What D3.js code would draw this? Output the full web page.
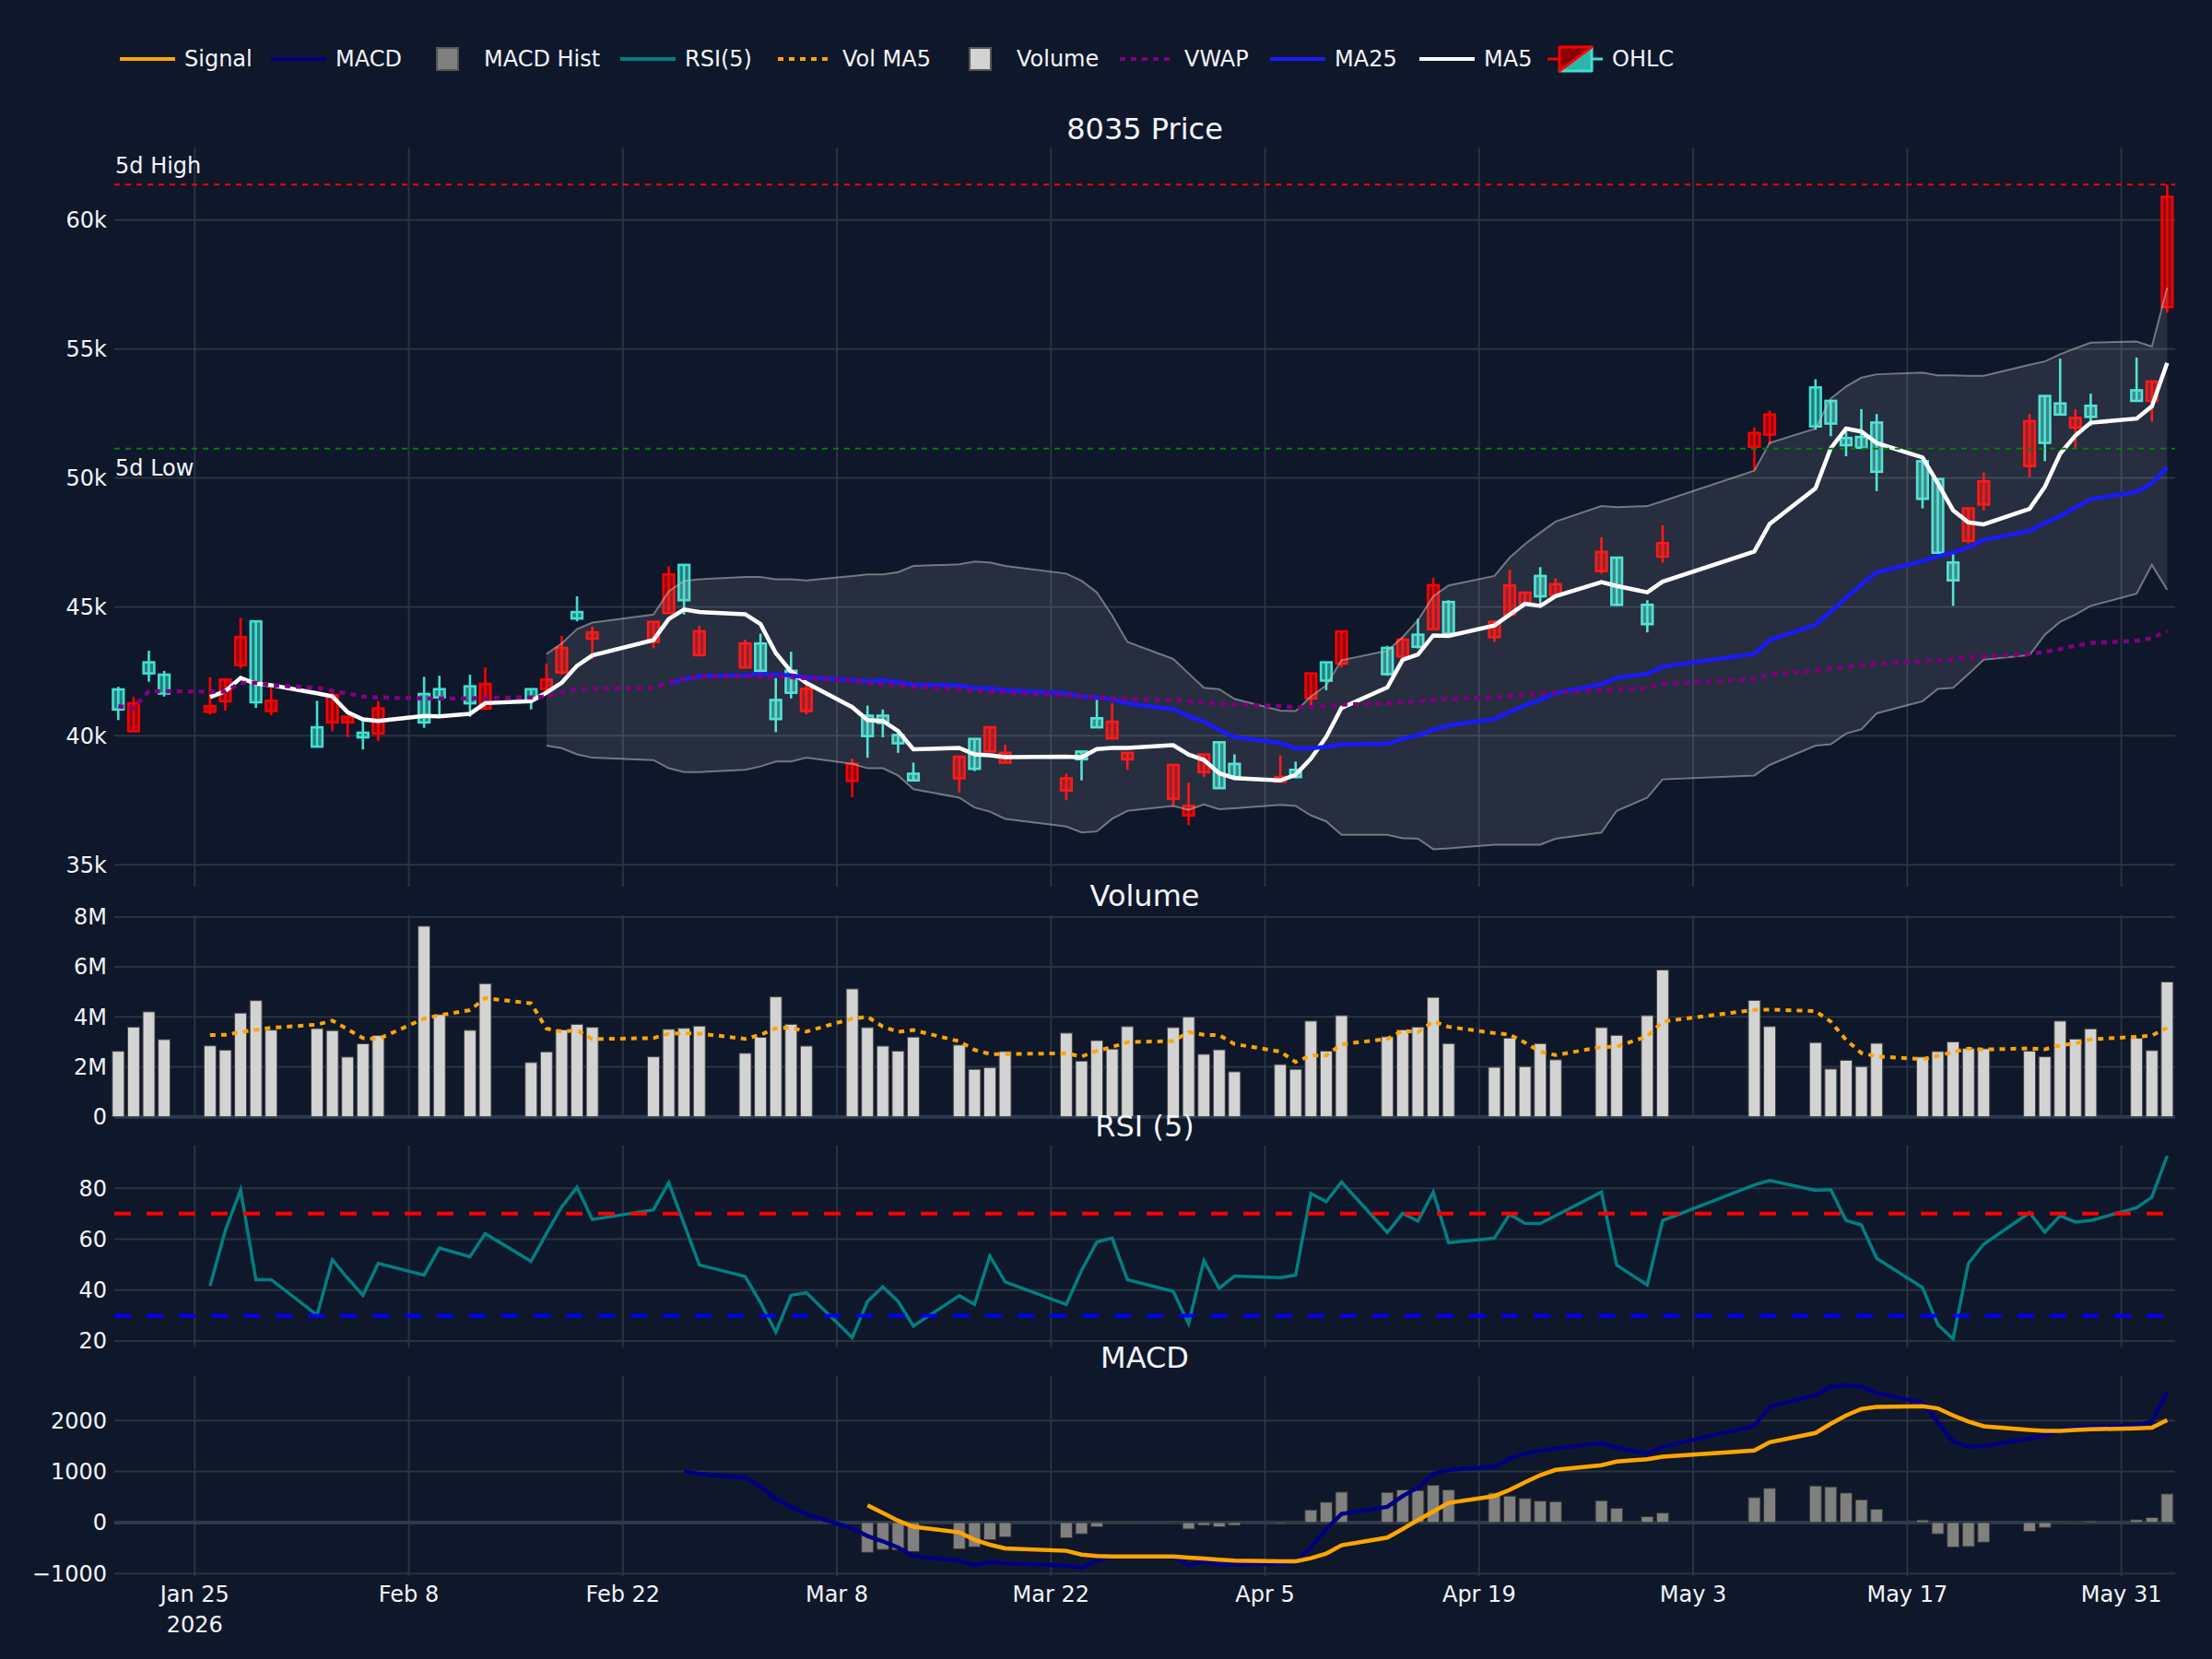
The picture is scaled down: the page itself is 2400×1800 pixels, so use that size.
<!DOCTYPE html>
<html lang="en">
<head>
<meta charset="UTF-8" />
<title>8035 Price</title>
<script src="https://d3js.org/d3.v7.min.js"></script>
<style>
  body { margin: 0; background: #0f172a; }
  svg { display: block; }
  text { font-family: "DejaVu Sans", Verdana, sans-serif; fill: #f2f5fa; }
</style>
</head>
<body>
<svg id="chart" width="2400" height="1800"></svg>
<script>
// ---- data ----
const dates = ["2026-01-20","2026-01-21","2026-01-22","2026-01-23","2026-01-26","2026-01-27","2026-01-28","2026-01-29","2026-01-30",
  "2026-02-02","2026-02-03","2026-02-04","2026-02-05","2026-02-06","2026-02-09","2026-02-10","2026-02-12","2026-02-13","2026-02-16","2026-02-17","2026-02-18","2026-02-19","2026-02-20","2026-02-24","2026-02-25","2026-02-26","2026-02-27",
  "2026-03-02","2026-03-03","2026-03-04","2026-03-05","2026-03-06","2026-03-09","2026-03-10","2026-03-11","2026-03-12","2026-03-13","2026-03-16","2026-03-17","2026-03-18","2026-03-19","2026-03-23","2026-03-24","2026-03-25","2026-03-26","2026-03-27","2026-03-30","2026-03-31",
  "2026-04-01","2026-04-02","2026-04-03","2026-04-06","2026-04-07","2026-04-08","2026-04-09","2026-04-10","2026-04-13","2026-04-14","2026-04-15","2026-04-16","2026-04-17","2026-04-20","2026-04-21","2026-04-22","2026-04-23","2026-04-24","2026-04-27","2026-04-28","2026-04-30",
  "2026-05-01","2026-05-07","2026-05-08","2026-05-11","2026-05-12","2026-05-13","2026-05-14","2026-05-15","2026-05-18","2026-05-19","2026-05-20","2026-05-21","2026-05-22","2026-05-25","2026-05-26","2026-05-27","2026-05-28","2026-05-29",
  "2026-06-01","2026-06-02","2026-06-03"];

const open = [41800,40180,42850,42370,40930,41340,42740,44440,40960,
  40330,40520,40520,40120,40090,41620,41810,41920,41060,41810,41810,42460,44800,43770,43640,44760,46630,43130,
  42650,43580,41390,42520,40960,38250,40780,40780,40030,38530,38350,39880,39390,38960,37880,39390,40680,39900,39090,37560,36910,
  38590,39750,38910,38220,38680,41450,42850,42800,43410,43080,43920,44140,45190,43830,44700,45130,46200,45450,46390,46910,45080,
  46950,51210,51680,53510,52990,51550,51590,52150,50650,49960,46720,47560,48970,50460,53180,52890,51960,52800,
  53400,52990,56630];
const high = [41900,41520,43300,42520,42270,42240,44570,44480,41860,
  41360,41670,40740,40650,41340,42290,42330,42370,42650,41810,42800,43880,45410,44240,44420,46570,46630,44260,
  43730,43960,42240,43260,41960,39110,41170,41020,40180,38960,39190,39880,40330,39650,38530,39390,41390,41260,39340,38870,38180,
  39280,39750,39280,39240,39000,42420,42850,44050,43490,43830,44540,46130,45260,44480,46440,45550,46540,46110,47700,46910,45260,
  48160,51960,52610,53830,52990,51830,52670,52480,50650,49960,47150,48820,50220,52480,53180,54630,52670,53270,
  54670,53740,61370];
const low = [40610,40170,42100,41520,40830,40980,42610,41080,40800,
  39580,40180,39940,39470,39800,40310,40830,40740,41020,41020,41670,42370,44440,42980,43390,44760,44700,43080,
  42640,42420,40140,41450,40830,37620,39150,39940,39340,38270,37800,38630,39390,38960,37500,38270,40330,39900,38680,37280,36530,
  38400,37970,38400,38220,38350,41110,41770,42650,42330,43080,43390,44110,43960,43640,44700,45080,45080,45450,46290,45040,44010,
  46720,50310,51300,51870,51620,50840,51170,49490,48820,47100,45040,47470,48740,50030,50650,52460,51170,52020,
  52950,52180,56410];
const close = [41020,41260,42420,41640,41150,42180,43830,41300,41360,
  39580,41580,40740,39940,41060,40520,41490,41260,42010,41430,42180,43410,44550,44010,44420,46260,45260,44050,
  43580,42520,40650,41670,41820,38910,39990,40500,39710,38270,39190,38720,40330,39340,38350,39090,40330,40550,39340,38870,37280,
  39280,37970,38400,38400,38400,42420,42140,44050,42390,43730,43450,45840,43960,44420,45830,45550,45410,45880,47130,45080,44330,
  47470,51740,52460,52000,52110,51270,51170,50240,49190,47100,46030,48820,49870,52200,51360,52460,52330,52370,
  52990,53740,60900];
const volume = [2.62e6,3.59e6,4.20e6,3.09e6,2.84e6,2.67e6,4.15e6,4.65e6,3.47e6,
  3.53e6,3.45e6,2.39e6,2.92e6,3.25e6,7.63e6,4.09e6,3.46e6,5.33e6,2.17e6,2.60e6,3.48e6,3.70e6,3.58e6,2.40e6,3.50e6,3.54e6,3.63e6,
  2.54e6,3.18e6,4.80e6,3.70e6,2.83e6,5.12e6,3.57e6,2.83e6,2.63e6,3.19e6,2.87e6,1.90e6,1.97e6,2.61e6,3.35e6,2.23e6,3.05e6,2.71e6,3.61e6,3.57e6,4.00e6,
  2.50e6,2.68e6,1.80e6,2.09e6,1.90e6,3.83e6,2.63e6,4.05e6,3.20e6,3.48e6,3.59e6,4.78e6,2.93e6,1.98e6,3.15e6,2.01e6,2.93e6,2.28e6,3.57e6,3.26e6,4.05e6,
  5.88e6,4.66e6,3.61e6,2.97e6,1.91e6,2.26e6,2.01e6,2.94e6,2.39e6,2.61e6,3.00e6,2.73e6,2.72e6,2.63e6,2.40e6,3.83e6,3.11e6,3.52e6,
  3.14e6,2.65e6,5.40e6];

// indicator series; each starts at the given index into dates
const ma5Start = 4;
const ma5 = [41498,41730,42244,42020,41964,
  41650,41530,40912,40640,40580,40768,40750,40854,41268,41342,41674,42058,42716,43116,43714,44530,44900,44800,
  44714,44334,43212,42494,42048,41114,40608,40578,40186,39476,39532,39278,39244,39170,39186,39166,39488,39532,39532,39636,39274,
  39064,38548,38360,38266,38490,39118,39952,41082,41880,42946,43152,43892,43874,44280,44700,45120,45034,45418,45960,45810,45566,
  45978,47150,48216,49600,51156,51916,51802,51358,50796,49794,48746,48276,48202,48804,49656,50942,51644,52144,
  52302,52778,54466];
const ma25Start = 24;
const ma25 = [42024,42194,42305,
  42352,42387,42367,42346,42266,42170,42116,42152,42078,41979,41949,41855,41848,41762,41645,41528,41484,41419,41256,41029,40760,
  40554,40223,39948,39722,39515,39511,39571,39666,39689,39882,40020,40234,40404,40650,40915,41188,41392,41653,42004,42244,42404,
  42681,43177,43720,44309,44822,45354,45865,46339,46770,46958,47113,47304,47603,47942,48258,48523,48858,49176,
  49462,49790,50410];
const bbStart = 19;
const bbUpper = [43170,43580,44140,44390,44700,45600,46010,46070,
  46160,46160,46070,46070,46030,46200,46260,46260,46350,46590,46650,46760,46720,46590,46290,46010,45560,44670,43640,42980,42420,
  41860,41810,41430,40980,40960,41520,41960,42930,43300,43830,44480,45410,45830,46200,46910,47440,47880,48310,48910,48870,48910,
  49100,50280,51360,51920,53080,53550,53890,54020,54090,53980,53980,53960,53960,54390,54520,54800,55030,55250,
  55290,55100,57380];
const bbLower = [39620,39520,39280,39150,39060,38740,38590,38590,
  38680,38810,39000,39000,39150,38910,38740,38740,38460,37930,37600,37220,37060,36780,36480,36250,36290,36780,37090,37280,37130,
  37340,37150,37190,37320,37280,36910,36680,36160,36160,36030,36010,35600,35630,35780,35780,35780,35780,36010,36250,37090,37600,
  38310,38460,38870,39620,39670,40090,40250,40870,41340,41820,41860,42390,42950,43130,43920,44420,44700,45040,
  45510,46630,45660];
const vwapStart = 0;
const vwap = [41150,41060,41730,41730,41710,41710,42050,42050,41960,
  41860,41750,41640,41520,41490,41450,41450,41450,41470,41490,41520,41670,41810,41820,41860,42050,42200,42290,
  42310,42290,42290,42270,42240,42140,42050,41990,41960,41900,41810,41750,41710,41670,41580,41520,41490,41450,41430,41390,41340,
  41300,41240,41210,41150,41110,41110,41150,41210,41260,41300,41340,41390,41430,41490,41540,41580,41640,41670,41770,41810,41860,
  42010,42200,42390,42520,42610,42670,42740,42800,42890,42930,42980,43040,43080,43170,43260,43360,43490,43600,
  43690,43790,44070];
const volMaStart = 4;
const volMa5 = [3.27e6,3.28e6,3.39e6,3.48e6,3.56e6,
  3.69e6,3.85e6,3.50e6,3.15e6,3.11e6,3.93e6,4.06e6,4.27e6,4.75e6,4.54e6,3.53e6,3.41e6,3.46e6,3.11e6,3.15e6,3.33e6,3.34e6,3.33e6,
  3.12e6,3.28e6,3.54e6,3.57e6,3.41e6,3.93e6,4.00e6,3.61e6,3.40e6,3.47e6,3.02e6,2.68e6,2.51e6,2.51e6,2.54e6,2.41e6,2.64e6,2.79e6,2.99e6,3.03e6,3.39e6,
  3.28e6,3.27e6,2.91e6,2.61e6,2.19e6,2.46e6,2.45e6,2.90e6,3.12e6,3.44e6,3.39e6,3.82e6,3.60e6,3.35e6,3.29e6,2.97e6,2.60e6,2.47e6,2.79e6,2.81e6,3.22e6,
  3.81e6,4.28e6,4.29e6,4.23e6,3.81e6,3.08e6,2.55e6,2.42e6,2.30e6,2.44e6,2.59e6,2.73e6,2.69e6,2.74e6,2.70e6,2.86e6,2.94e6,3.10e6,
  3.20e6,3.25e6,3.56e6];
const rsiStart = 4;
const rsi = [41.6,63.4,79.4,44.1,44.1,
  30.2,51.9,44.7,38.0,50.5,45.9,56.5,53.1,62.2,51.3,62.2,72.7,80.4,67.7,71.5,82.2,66.0,49.9,
  45.3,35.2,23.5,38.0,39.0,21.4,35.6,41.3,35.6,25.9,37.8,34.4,53.4,43.2,34.4,47.7,58.9,60.4,44.1,39.5,26.8,
  51.6,40.7,45.5,44.9,45.9,77.9,74.7,82.4,62.6,70.1,67.1,78.5,58.6,60.4,69.8,66.2,66.1,69.2,78.5,49.8,42.0,
  67.3,81.3,83.0,79.2,79.4,67.3,65.6,52.5,41.0,26.5,20.8,50.5,58.0,70.4,62.8,69.2,66.7,67.3,
  72.3,76.5,92.7];
const macdStart = 25;
const macd = [1002,954,
  881,712,459,308,169,-115,-266,-368,-489,-658,-748,-839,-779,-797,-845,-881,-748,-658,-658,-658,-839,
  -766,-821,-821,-809,-779,-477,-133,169,308,519,688,954,1032,1092,1255,1352,1406,1454,1557,1467,1352,
  1485,1895,2269,2498,2661,2691,2661,2541,2348,1967,1593,1485,1497,1648,1708,1817,1859,1877,
  1907,1979,2571];
const signalStart = 33;
const signal = [338,187,36,-84,-193,-338,-435,-507,-555,-628,-658,-664,-664,-664,-688,
  -706,-730,-748,-760,-760,-700,-610,-447,-296,-127,48,217,386,519,640,791,929,1032,1123,1195,1243,
  1292,1412,1575,1756,1937,2100,2227,2269,2281,2239,2100,1979,1889,1817,1798,1798,1817,1829,
  1847,1859,2010];
const histStart = 33;
const hist = [-585,-530,-540,-570,-519,-477,-338,-284,-302,-223,-84,-12,-12,-12,-127,
  -54,-84,-54,-25,10,247,398,597,591,640,628,730,640,579,519,471,420,410,428,278,115,
  187,489,670,718,700,579,447,260,48,-223,-483,-471,-386,-175,-97,-12,12,30,
  54,97,561];

const high5d = 61380;
const low5d = 51140;
const rsiLevels = [70, 30];

const xTickDates = ["2026-01-25","2026-02-08","2026-02-22","2026-03-08","2026-03-22","2026-04-05","2026-04-19","2026-05-03","2026-05-17","2026-05-31"];
const priceTicks = [35000, 40000, 45000, 50000, 55000, 60000];
const volTicks = [0, 2e6, 4e6, 6e6, 8e6];
const rsiTicks = [20, 40, 60, 80];
const macdTicks = [-1000, 0, 1000, 2000];

// ---- layout ----
const svg = d3.select("#chart");
svg.append("rect").attr("width", 2400).attr("height", 1800).attr("fill", "#0f172a");

const parse = d3.timeParse("%Y-%m-%d");
const days = dates.map(parse);
const left = 124, right = 2360;
const x = d3.scaleTime()
  .domain([new Date(2026, 0, 19, 17, 43), new Date(2026, 5, 3, 12, 30)])
  .range([left, right]);
const dayW = x(new Date(2026, 0, 26)) - x(new Date(2026, 0, 25));

const yPrice = d3.scaleLinear().domain([34150, 62800]).range([962, 160.5]);
const yVol = d3.scaleLinear().domain([-0.05e6, 8.07e6]).range([1213, 993]);
const yRsi = d3.scaleLinear().domain([17.5, 96.7]).range([1462, 1243]);
const yMacd = d3.scaleLinear().domain([-1050, 2873]).range([1710, 1493]);

const gridColor = "#283442";
const xTicks = xTickDates.map(parse);

function drawPanel(y, ticks, fmt, zero) {
  const [bottom, top] = y.range();
  const g = svg.append("g");
  g.selectAll(null).data(xTicks).enter().append("line")
    .attr("x1", d => x(d)).attr("x2", d => x(d))
    .attr("y1", top).attr("y2", bottom)
    .attr("stroke", gridColor).attr("stroke-width", 2);
  g.selectAll(null).data(ticks).enter().append("line")
    .attr("x1", left).attr("x2", right)
    .attr("y1", d => y(d)).attr("y2", d => y(d))
    .attr("stroke", gridColor).attr("stroke-width", 2);
  if (zero) {
    g.append("line").attr("x1", left).attr("x2", right)
      .attr("y1", y(0)).attr("y2", y(0))
      .attr("stroke", "#2c3a4c").attr("stroke-width", 4);
  }
  g.selectAll(null).data(ticks).enter().append("text")
    .attr("x", 116).attr("y", d => y(d)).attr("dy", "0.35em")
    .attr("text-anchor", "end").attr("font-size", 24)
    .text(fmt);
}

drawPanel(yPrice, priceTicks, d3.format("~s"), false);
drawPanel(yVol, volTicks, d3.format("~s"), true);
drawPanel(yRsi, rsiTicks, d3.format("d"), false);
drawPanel(yMacd, macdTicks, d3.format("d"), true);

function lineFor(start, y) {
  return d3.line().x((d, i) => x(days[start + i])).y(d => y(d));
}

// ---- price panel ----
const upColor = "#ff0000", downColor = "#40e0d0";
const idx = d3.range(dates.length);
const isUp = i => close[i] >= open[i];
const bodyW = dayW * 0.7;

const candles = svg.append("g").selectAll("g").data(idx).enter().append("g");
candles.append("line")
  .attr("x1", i => x(days[i])).attr("x2", i => x(days[i]))
  .attr("y1", i => yPrice(high[i])).attr("y2", i => yPrice(low[i]))
  .attr("stroke", i => isUp(i) ? upColor : downColor)
  .attr("stroke-width", 2.6);
candles.append("rect")
  .attr("x", i => x(days[i]) - bodyW / 2)
  .attr("width", bodyW)
  .attr("y", i => yPrice(Math.max(open[i], close[i])))
  .attr("height", i => Math.max(1, Math.abs(yPrice(open[i]) - yPrice(close[i]))))
  .attr("fill", i => isUp(i) ? "rgba(255,0,0,0.5)" : "rgba(64,224,208,0.5)")
  .attr("stroke", i => isUp(i) ? upColor : downColor)
  .attr("stroke-width", 2.6);

// Bollinger band
const bbIdx = d3.range(bbUpper.length);
svg.append("path").datum(bbIdx)
  .attr("fill", "rgba(255,255,255,0.1)")
  .attr("d", d3.area()
    .x(i => x(days[bbStart + i]))
    .y0(i => yPrice(bbLower[i]))
    .y1(i => yPrice(bbUpper[i])));
[bbUpper, bbLower].forEach(band => {
  svg.append("path").datum(band)
    .attr("fill", "none").attr("stroke", "rgba(190,190,190,0.55)").attr("stroke-width", 2)
    .attr("d", lineFor(bbStart, yPrice));
});

svg.append("path").datum(ma5)
  .attr("fill", "none").attr("stroke", "white").attr("stroke-width", 4.5)
  .attr("d", lineFor(ma5Start, yPrice));
svg.append("path").datum(ma25)
  .attr("fill", "none").attr("stroke", "#1a1aff").attr("stroke-width", 4.5)
  .attr("d", lineFor(ma25Start, yPrice));
svg.append("path").datum(vwap)
  .attr("fill", "none").attr("stroke", "purple").attr("stroke-width", 4.5)
  .attr("stroke-dasharray", "6,6")
  .attr("d", lineFor(vwapStart, yPrice));

// 5-day high / low reference lines
svg.append("line").attr("x1", left).attr("x2", right)
  .attr("y1", yPrice(high5d)).attr("y2", yPrice(high5d))
  .attr("stroke", "red").attr("stroke-width", 2).attr("stroke-dasharray", "6,6");
svg.append("line").attr("x1", left).attr("x2", right)
  .attr("y1", yPrice(low5d)).attr("y2", yPrice(low5d))
  .attr("stroke", "green").attr("stroke-width", 2).attr("stroke-dasharray", "6,6");
svg.append("text").attr("x", 125).attr("y", yPrice(high5d) - 12)
  .attr("font-size", 24).text("5d High");
svg.append("text").attr("x", 125).attr("y", yPrice(low5d) + 29)
  .attr("font-size", 24).text("5d Low");

// ---- volume panel ----
const barW = dayW * 0.78;
svg.append("g").selectAll("rect").data(volume).enter().append("rect")
  .attr("x", (d, i) => x(days[i]) - barW / 2)
  .attr("width", barW)
  .attr("y", d => yVol(d))
  .attr("height", d => yVol(0) - yVol(d))
  .attr("fill", "lightgray")
  .attr("stroke", "#444").attr("stroke-width", 1);
svg.append("path").datum(volMa5)
  .attr("fill", "none").attr("stroke", "orange").attr("stroke-width", 4)
  .attr("stroke-dasharray", "6,6")
  .attr("d", lineFor(volMaStart, yVol));

// ---- RSI panel ----
svg.append("path").datum(rsi)
  .attr("fill", "none").attr("stroke", "teal").attr("stroke-width", 3.5)
  .attr("d", lineFor(rsiStart, yRsi));
svg.selectAll(null).data(rsiLevels).enter().append("line")
  .attr("x1", left).attr("x2", right)
  .attr("y1", d => yRsi(d)).attr("y2", d => yRsi(d))
  .attr("stroke", d => d > 50 ? "red" : "blue")
  .attr("stroke-width", 4).attr("stroke-dasharray", "18,17");

// ---- MACD panel ----
svg.append("g").selectAll("rect").data(hist).enter().append("rect")
  .attr("x", (d, i) => x(days[histStart + i]) - barW / 2)
  .attr("width", barW)
  .attr("y", d => yMacd(Math.max(0, d)))
  .attr("height", d => Math.max(1, Math.abs(yMacd(d) - yMacd(0))))
  .attr("fill", "#808080")
  .attr("stroke", "#333").attr("stroke-width", 1);
svg.append("path").datum(macd)
  .attr("fill", "none").attr("stroke", "navy").attr("stroke-width", 4.5)
  .attr("d", lineFor(macdStart, yMacd));
svg.append("path").datum(signal)
  .attr("fill", "none").attr("stroke", "orange").attr("stroke-width", 4.5)
  .attr("d", lineFor(signalStart, yMacd));

// ---- x axis labels ----
const fmtDay = d3.timeFormat("%b %-d");
svg.selectAll(null).data(xTicks).enter().append("text")
  .attr("x", d => x(d)).attr("y", 1738)
  .attr("text-anchor", "middle").attr("font-size", 24)
  .text(fmtDay);
svg.append("text").attr("x", x(xTicks[0])).attr("y", 1771)
  .attr("text-anchor", "middle").attr("font-size", 24).text("2026");

// ---- subplot titles ----
const mid = (left + right) / 2;
[["8035 Price", 151], ["Volume", 983], ["RSI (5)", 1233], ["MACD", 1484]].forEach(([t, yy]) => {
  svg.append("text").attr("x", mid).attr("y", yy)
    .attr("text-anchor", "middle").attr("font-size", 32).text(t);
});

// ---- legend ----
const legendY = 64;
const legend = [
  { name: "Signal", kind: "line", color: "orange", x0: 120 },
  { name: "MACD", kind: "line", color: "navy", x0: 284 },
  { name: "MACD Hist", kind: "box", color: "#808080", x0: 445 },
  { name: "RSI(5)", kind: "line", color: "teal", x0: 663 },
  { name: "Vol MA5", kind: "dot", color: "orange", x0: 834 },
  { name: "Volume", kind: "box", color: "lightgray", x0: 1023 },
  { name: "VWAP", kind: "dot", color: "purple", x0: 1205 },
  { name: "MA25", kind: "line", color: "#1a1aff", x0: 1368 },
  { name: "MA5", kind: "line", color: "white", x0: 1530 },
  { name: "OHLC", kind: "ohlc", color: "red", x0: 1669 }
];
const lg = svg.append("g");
legend.forEach(item => {
  const s = item.x0;
  if (item.kind === "line" || item.kind === "dot") {
    lg.append("line").attr("x1", s + 10).attr("x2", s + 70)
      .attr("y1", legendY).attr("y2", legendY)
      .attr("stroke", item.color).attr("stroke-width", 4)
      .attr("stroke-dasharray", item.kind === "dot" ? "6,6" : null);
  } else if (item.kind === "box") {
    lg.append("rect").attr("x", s + 29).attr("y", legendY - 12)
      .attr("width", 23).attr("height", 24)
      .attr("fill", item.color).attr("stroke", "#555").attr("stroke-width", 2);
  } else {
    // candlestick icon: box split on the diagonal, red upper-left / teal lower-right
    const bx0 = s + 23, bx1 = s + 58, by0 = legendY - 13, by1 = legendY + 13;
    lg.append("line").attr("x1", s + 10).attr("x2", bx0).attr("y1", legendY).attr("y2", legendY)
      .attr("stroke", upColor).attr("stroke-width", 3);
    lg.append("line").attr("x1", bx1).attr("x2", s + 70).attr("y1", legendY).attr("y2", legendY)
      .attr("stroke", downColor).attr("stroke-width", 3);
    lg.append("path")
      .attr("d", `M${bx0},${by1}L${bx1},${by1}L${bx1},${by0}Z`)
      .attr("fill", "#2ab7aa").attr("stroke", downColor).attr("stroke-width", 3)
      .attr("stroke-linejoin", "round");
    lg.append("path")
      .attr("d", `M${bx0},${by1}L${bx0},${by0}L${bx1},${by0}Z`)
      .attr("fill", "#8b0000").attr("stroke", upColor).attr("stroke-width", 3)
      .attr("stroke-linejoin", "round");
  }
  lg.append("text").attr("x", s + 80).attr("y", legendY).attr("dy", "0.35em")
    .attr("font-size", 24).text(item.name);
});
</script>
</body>
</html>
